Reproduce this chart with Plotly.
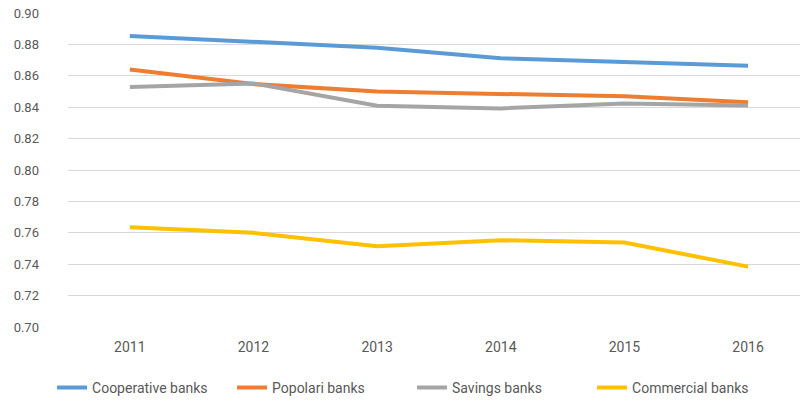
import plotly.graph_objects as go

years = ["2011", "2012", "2013", "2014", "2015", "2016"]
cooperative = [0.8855, 0.8815, 0.8780, 0.8713, 0.8688, 0.8665]
popolari = [0.8641, 0.8548, 0.8500, 0.8487, 0.8470, 0.8433]
savings = [0.8529, 0.8552, 0.8410, 0.8393, 0.8425, 0.8412]
commercial = [0.7635, 0.7600, 0.7515, 0.7553, 0.7538, 0.7385]

series = [
    ("Cooperative banks", cooperative, "#5B9BD5"),
    ("Popolari banks", popolari, "#ED7D31"),
    ("Savings banks", savings, "#A5A5A5"),
    ("Commercial banks", commercial, "#FFC000"),
]

font_family = "Roboto, Arial, sans-serif"

fig = go.Figure()
for name, vals, color in series:
    fig.add_trace(go.Scatter(
        x=years, y=vals, name=name, mode="lines",
        line=dict(color=color, width=4),
    ))

fig.update_layout(
    width=800, height=402,
    margin=dict(l=68, r=0, t=13, b=75, autoexpand=False),
    paper_bgcolor="white", plot_bgcolor="white",
    font=dict(family=font_family, size=14, color="#595959"),
    showlegend=True,
    legend=dict(
        orientation="h", x=0.47, xanchor="center", y=-0.194, yanchor="middle",
        font=dict(size=14, color="#595959"),
        itemwidth=30, entrywidth=135, tracegroupgap=0,
    ),
)
fig.update_xaxes(
    type="category", range=[-0.5, 5.42],
    showgrid=False, showline=False, zeroline=False,
    ticks="", ticklabelstandoff=10,
    tickfont=dict(size=14, color="#595959"),
)
fig.update_yaxes(
    range=[0.70, 0.9001], tick0=0.70, dtick=0.02, tickformat=".2f",
    showgrid=True, gridcolor="#D9D9D9", gridwidth=1,
    zeroline=False, showline=False, ticks="",
    ticklabelstandoff=28,
    tickfont=dict(size=13, color="#595959"),
)

fig.write_html(
    "out.html",
    config={"displayModeBar": False},
    post_script="document.body.style.margin='0';",
)
